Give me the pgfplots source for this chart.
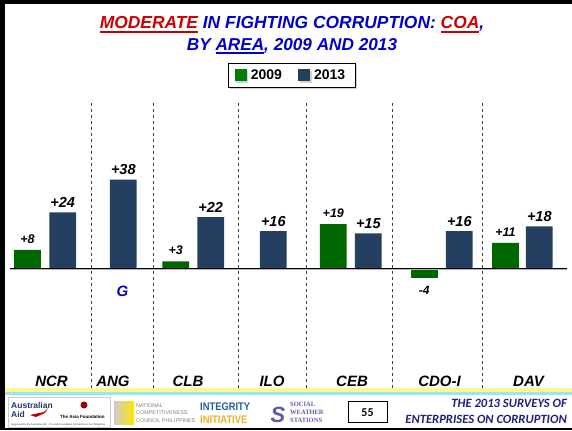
\documentclass[border=0pt]{standalone}
\usepackage{pgfplots}
\pgfplotsset{compat=1.18}
\usepackage{fontspec}
\setmainfont{Liberation Sans}
\newfontfamily\calib{Carlito}
\newfontfamily\serifb{Liberation Serif}
\usetikzlibrary{shadows}
\definecolor{bargreen}{HTML}{006600}
\definecolor{leggreen}{HTML}{008000}
\definecolor{navy}{HTML}{243F60}
\definecolor{tred}{HTML}{CC0000}
\definecolor{tblue}{HTML}{0000CC}
\definecolor{foot}{HTML}{1F1F7A}
\definecolor{ausblue}{HTML}{1F3B73}
\definecolor{intblue}{HTML}{1F5FA0}
\definecolor{intyel}{HTML}{F2B01E}
\definecolor{swsblue}{HTML}{5C5CA8}
\newcommand\ul[1]{\leavevmode\setbox0=\hbox{#1}\rlap{\raisebox{-3.8bp}{\rule{\wd0}{1.8bp}}}\box0}
\newcommand\fs[1]{\fontsize{#1bp}{#1bp}\selectfont}
\begin{document}
\begin{tikzpicture}[x=1bp,y=1bp]
\path[use as bounding box] (0,0) rectangle (572,430);
\fill[white] (0,0) rectangle (572,430);
% slide frame
\fill[black] (0,0) rectangle (5,430);
\fill[black] (0,426) rectangle (572,430);
\fill[black] (0,0) rectangle (572,2);
% footer band
\fill[yellow!45!white] (5,38) rectangle (572,42);
\fill[blue!25!cyan!40!white] (5,35) rectangle (572,38);
\begin{axis}[
  at={(10bp,40bp)}, anchor=south west, scale only axis,
  width=552bp, height=290bp,
  xmin=10, xmax=562, ymin=-51.92, ymax=72.01,
  axis lines=none, clip=false,
  legend columns=2,
  legend image code/.code={\fill[#1] (0bp,-6bp) rectangle (12bp,6bp);},
  legend style={at={(axis description cs:0.5109,1.0845)}, anchor=center,
    draw=black, line width=0.8bp, fill=white,
    drop shadow={shadow xshift=1.5bp, shadow yshift=-1.5bp, fill=gray!70},
    inner xsep=6bp, inner ysep=3.5bp,
    nodes={inner xsep=4bp, inner ysep=2.5bp, font=\fs{14}\bfseries},
    /tikz/every even column/.append style={column sep=12bp}},
]
\addlegendimage{fill=leggreen, draw=none}
\addlegendentry{2009}
\addlegendimage{fill=navy, draw=none}
\addlegendentry{2013}
\addplot[ybar, bar width=26.7bp, bar shift=0pt, fill=bargreen, draw=none,
  point meta=explicit symbolic, nodes near coords,
  nodes near coords style={anchor=base, inner sep=0pt, yshift=6.5bp, font=\fs{12.5}\bfseries\itshape, text=black}]
  coordinates {(27.5,8)[+8] (175.7,3)[+3] (333.3,19)[+19] (505.5,11)[+11]};
\addplot[ybar, bar width=26.7bp, bar shift=0pt, fill=bargreen, draw=none,
  point meta=explicit symbolic, nodes near coords,
  nodes near coords style={anchor=base, inner sep=0pt, yshift=-17bp, font=\fs{12}\bfseries\itshape, text=black}]
  coordinates {(424.3,-4)[-4]};
\addplot[ybar, bar width=26.7bp, bar shift=0pt, fill=navy, draw=none,
  point meta=explicit symbolic, nodes near coords,
  nodes near coords style={anchor=base, inner sep=0pt, yshift=5bp, font=\fs{14.5}\bfseries\itshape, text=black}]
  coordinates {(62.7,24)[+24] (123.3,38)[+38] (210.7,22)[+22] (273.3,16)[+16] (368.3,15)[+15] (459.3,16)[+16] (539.3,18)[+18]};
\draw[gray!60, line width=1.2bp, yshift=-1.3bp] (axis cs:10,0) -- (axis cs:567,0);
\draw[black, line width=1.5bp] (axis cs:10,0) -- (axis cs:567,0);
\end{axis}
% separators
\foreach \xx in {91.5,153.5,238.5,306.5,392.5,482.5}
  \draw[black!75, line width=1bp, dash pattern=on 3bp off 3bp] (\xx,327) -- (\xx,42);
% G
\node[text=tblue, font=\fs{15}\bfseries\itshape, anchor=base] at (122.5,134) {G};
% category labels
\foreach \xx/\lab in {51.5/NCR,113/ANG,188/CLB,272/ILO,352/CEB,439.5/CDO-I,528.5/DAV}
  \node[font=\fs{15}\bfseries\itshape, anchor=base, inner sep=0pt] at (\xx,44) {\lab};
% title
\node[font=\fs{17.4}\bfseries\itshape, anchor=base, inner sep=0pt, text=tblue] at (292,401)
  {\textcolor{tred}{\ul{MODERATE}} IN FIGHTING CORRUPTION: \textcolor{tred}{\ul{COA}},};
\node[font=\fs{17.2}\bfseries\itshape, anchor=base, inner sep=0pt, text=tblue] at (292,380)
  {BY \ul{AREA}, 2009 AND 2013};
% footer logos
\draw[gray!40, line width=0.6bp] (8,3) rectangle (110,33);
\node[font=\fs{8.5}\bfseries, text=ausblue, anchor=base west, inner sep=0pt] at (11,22) {Australian};
\node[font=\fs{8.5}\bfseries, text=ausblue, anchor=base west, inner sep=0pt] at (11,13) {Aid};
\fill[red!75!black] (30,15) -- (44,18) -- (48,22) -- (45,17) -- (36,13) -- cycle;
\fill[red!60!black] (84,25) circle (3.5);
\node[font=\fs{4.5}\bfseries, anchor=base west, inner sep=0pt] at (60,12) {The Asia Foundation};
\node[font=\fs{2.5}, text=ausblue, anchor=base west, inner sep=0pt] at (11,5) {Supported by the Australian Aid -- The Asia Foundation Partnership in the Philippines};
\shade[left color=gray!40, right color=yellow!80!orange] (114,6) rectangle (134,29);
\node[font=\fs{5.4}, text=gray, anchor=base west, inner sep=0pt] at (136,23) {NATIONAL};
\node[font=\fs{5.4}, text=gray, anchor=base west, inner sep=0pt] at (136,15.5) {COMPETITIVENESS};
\node[font=\fs{5.4}, text=gray, anchor=base west, inner sep=0pt] at (136,8) {COUNCIL PHILIPPINES};
\node[font=\fs{11}\bfseries, text=intblue, anchor=base west, inner sep=0pt] at (200,20) {\addfontfeatures{FakeStretch=0.85}INTEGRITY};
\node[font=\fs{11}\bfseries, text=intyel, anchor=base west, inner sep=0pt] at (200,7) {\addfontfeatures{FakeStretch=0.85}INITIATIVE};
\node[font=\fs{22}\bfseries\itshape, text=swsblue, anchor=base, inner sep=0pt] at (278,8) {S};
\node[font=\fs{6.5}\serifb\bfseries, text=swsblue, anchor=base west, inner sep=0pt] at (290,24) {SOCIAL};
\node[font=\fs{6.5}\serifb\bfseries, text=swsblue, anchor=base west, inner sep=0pt] at (290,16) {WEATHER};
\node[font=\fs{6.5}\serifb\bfseries, text=swsblue, anchor=base west, inner sep=0pt] at (290,8) {STATIONS};
\draw[black, line width=0.8bp] (348,8) rectangle (387,29);
\node[font=\calib\fs{12}\bfseries, anchor=base, inner sep=0pt] at (367.5,14) {55};
\node[font=\calib\fs{12.6}\bfseries\itshape, text=foot, anchor=base east, inner sep=0pt] at (567,23) {THE 2013 SURVEYS OF};
\node[font=\calib\fs{12.6}\bfseries\itshape, text=foot, anchor=base east, inner sep=0pt] at (567,7) {ENTERPRISES ON CORRUPTION};
\end{tikzpicture}
\end{document}
